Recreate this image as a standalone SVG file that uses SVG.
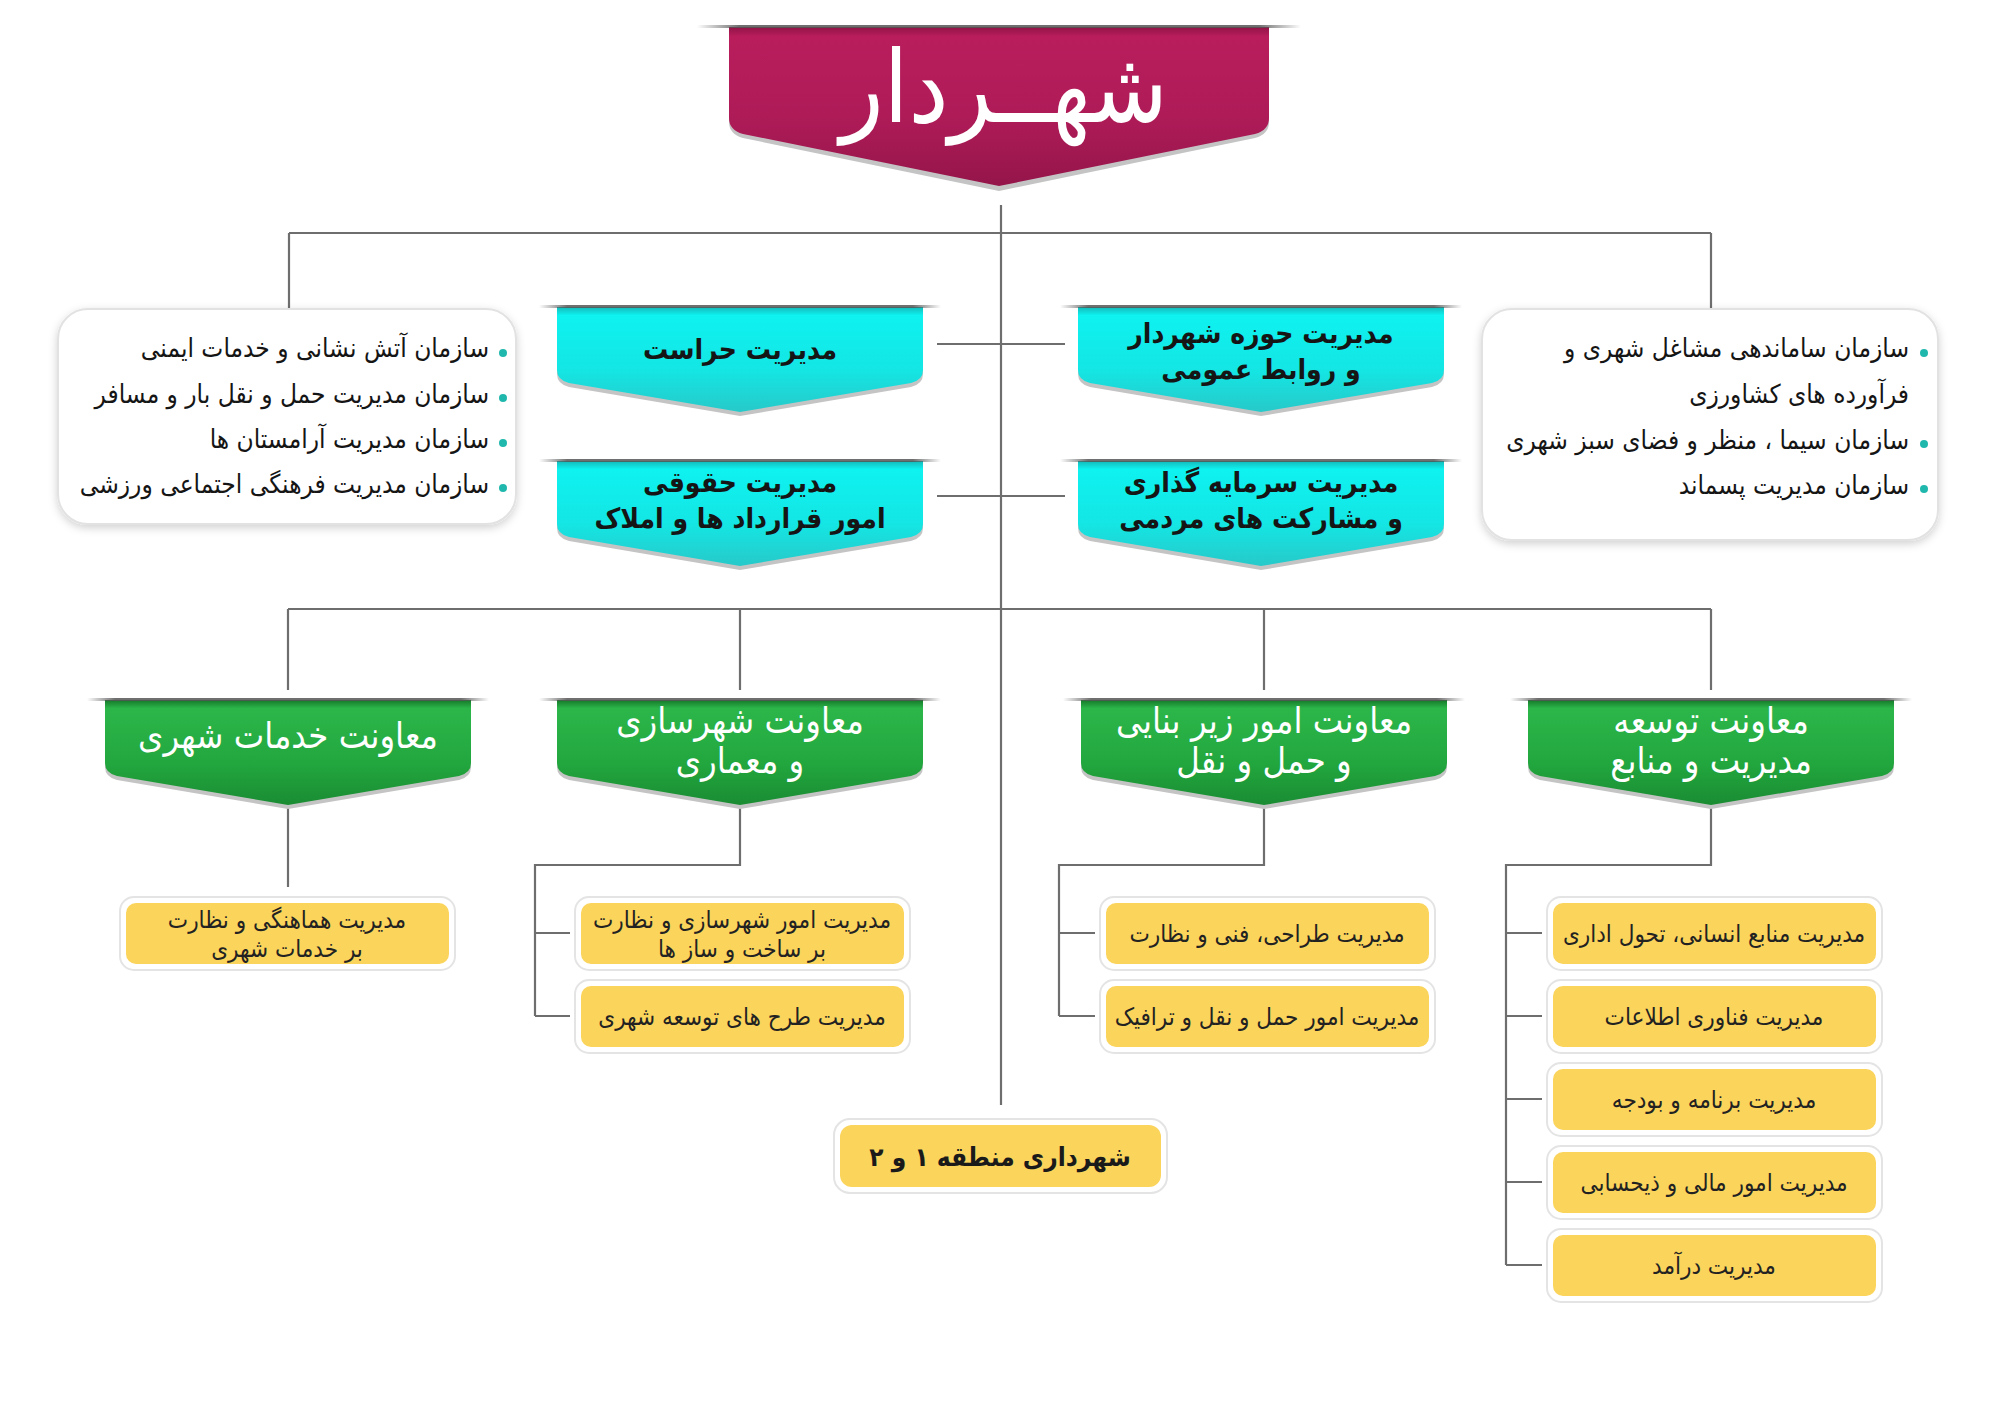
<svg xmlns="http://www.w3.org/2000/svg" xmlns:xlink="http://www.w3.org/1999/xlink" width="2000" height="1413" viewBox="0 0 2000 1413">
<style>
  text { font-family: "DejaVu Sans Condensed", "DejaVu Sans", sans-serif; direction: rtl; }
  .conn { fill: none; stroke: #6e6e6e; stroke-width: 2.2; }
  .mayor { font-size: 100px; fill: #ffffff; text-anchor: middle; }
  .cy { font-size: 28px; fill: #151515; text-anchor: middle; font-weight: bold; }
  .gr { font-size: 36px; fill: #ffffff; text-anchor: middle; }
  .ye { font-size: 24px; fill: #222222; text-anchor: middle; }
  .ye2 { font-size: 26px; fill: #1a1a1a; text-anchor: middle; font-weight: bold; }
  .bl { font-size: 26px; fill: #151515; text-anchor: start; }
  .dot { fill: #20b8ad; }
  .card { fill: #ffffff; stroke: #e2e2e2; stroke-width: 2; filter: url(#sh); }
  .yo { fill: #ffffff; stroke: #e4e4e4; stroke-width: 2; }
  .yi { fill: #fbd45c; }
  .ribsh { fill: #c4c4c4; }
</style>
<defs>
  <filter id="sh" x="-10%" y="-10%" width="120%" height="130%">
    <feDropShadow dx="0" dy="3" stdDeviation="4" flood-color="#000000" flood-opacity="0.18"/>
  </filter>
  <linearGradient id="gBar" x1="0" y1="0" x2="1" y2="0">
    <stop offset="0" stop-color="#555" stop-opacity="0"/>
    <stop offset="0.07" stop-color="#555" stop-opacity="0.85"/>
    <stop offset="0.93" stop-color="#555" stop-opacity="0.85"/>
    <stop offset="1" stop-color="#555" stop-opacity="0"/>
  </linearGradient>
  <linearGradient id="gMag" x1="0" y1="0" x2="0" y2="1">
    <stop offset="0" stop-color="#8f1446"/>
    <stop offset="0.06" stop-color="#b91d5c"/>
    <stop offset="0.6" stop-color="#ad1b57"/>
    <stop offset="1" stop-color="#94154a"/>
  </linearGradient>
  <linearGradient id="gCyan" x1="0" y1="0" x2="0" y2="1">
    <stop offset="0" stop-color="#14b9b9"/>
    <stop offset="0.08" stop-color="#0ef2f0"/>
    <stop offset="0.6" stop-color="#14e6e4"/>
    <stop offset="1" stop-color="#27c9c9"/>
  </linearGradient>
  <linearGradient id="gGreen" x1="0" y1="0" x2="0" y2="1">
    <stop offset="0" stop-color="#15782a"/>
    <stop offset="0.08" stop-color="#2cb64a"/>
    <stop offset="0.6" stop-color="#22a73e"/>
    <stop offset="1" stop-color="#1a8c33"/>
  </linearGradient>
  <path id="rib" d="M-183,0 H183 V63 Q183,73 171,76 L0,105 L-171,76 Q-183,73 -183,63 Z"/>
  <rect id="bar" x="-201" y="-2" width="402" height="3"/>
</defs>

<g id="connectors">
  <path class="conn" d="M1001,205 V1105"/>
  <path class="conn" d="M289,233 H1711 M289,233 V309 M1711,233 V309"/>
  <path class="conn" d="M937,344 H1065 M937,496 H1065"/>
  <path class="conn" d="M288,609 H1711 M288,609 V690 M740,609 V690 M1264,609 V690 M1711,609 V690"/>
  <path class="conn" d="M288,805 V887"/>
  <path class="conn" d="M740,805 V865 H535 V1016 M535,933 H570 M535,1016 H570"/>
  <path class="conn" d="M1264,805 V865 H1059 V1016 M1059,933 H1095 M1059,1016 H1095"/>
  <path class="conn" d="M1711,805 V865 H1506 V1265 M1506,933 H1542 M1506,1016 H1542 M1506,1099 H1542 M1506,1182 H1542 M1506,1265 H1542"/>
</g>

<g id="mayor">
  <path fill="#c4c4c4" d="M729,31 H1269 V122 Q1269,134 1255,138 L999,191 L743,138 Q729,134 729,122 Z"/>
  <path fill="url(#gMag)" d="M729,27 H1269 V118 Q1269,130 1255,134 L999,186 L743,134 Q729,130 729,118 Z"/>
  <rect x="697" y="25" width="604" height="3" fill="url(#gBar)"/>
  <text class="mayor" x="1004" y="122">شهــردار</text>
</g>

<g id="org-left">
  <rect class="card" x="58" y="309" width="458" height="215" rx="30"/>
  <circle class="dot" cx="503" cy="353" r="4"/>
  <circle class="dot" cx="503" cy="398" r="4"/>
  <circle class="dot" cx="503" cy="443" r="4"/>
  <circle class="dot" cx="503" cy="488" r="4"/>
  <text class="bl" x="489" y="357">سازمان آتش نشانی و خدمات ایمنی</text>
  <text class="bl" x="489" y="403">سازمان مدیریت حمل و نقل بار و مسافر</text>
  <text class="bl" x="489" y="448">سازمان مدیریت آرامستان ها</text>
  <text class="bl" x="489" y="493">سازمان مدیریت فرهنگی اجتماعی ورزشی</text>
</g>

<g id="org-right">
  <rect class="card" x="1482" y="309" width="456" height="231" rx="30"/>
  <circle class="dot" cx="1924" cy="353" r="4"/>
  <circle class="dot" cx="1924" cy="444" r="4"/>
  <circle class="dot" cx="1924" cy="489" r="4"/>
  <text class="bl" x="1909" y="357">سازمان ساماندهی مشاغل شهری و</text>
  <text class="bl" x="1909" y="403">فرآورده های کشاورزی</text>
  <text class="bl" x="1909" y="449">سازمان سیما ، منظر و فضای سبز شهری</text>
  <text class="bl" x="1909" y="494">سازمان مدیریت پسماند</text>
</g>

<g id="herasat" transform="translate(740,307)">
  <use href="#rib" class="ribsh" y="4"/>
  <use href="#rib" fill="url(#gCyan)"/>
  <use href="#bar" fill="url(#gBar)"/>
  <text class="cy" x="0" y="52">مدیریت حراست</text>
</g>

<g id="howzeh" transform="translate(1261,307)">
  <use href="#rib" class="ribsh" y="4"/>
  <use href="#rib" fill="url(#gCyan)"/>
  <use href="#bar" fill="url(#gBar)"/>
  <text class="cy" x="0" y="36">مدیریت حوزه شهردار</text>
  <text class="cy" x="0" y="72">و روابط عمومی</text>
</g>

<g id="hoghoghi" transform="translate(740,461)">
  <use href="#rib" class="ribsh" y="4"/>
  <use href="#rib" fill="url(#gCyan)"/>
  <use href="#bar" fill="url(#gBar)"/>
  <text class="cy" x="0" y="31">مدیریت حقوقی</text>
  <text class="cy" x="0" y="67">امور قرارداد ها و املاک</text>
</g>

<g id="sarmayeh" transform="translate(1261,461)">
  <use href="#rib" class="ribsh" y="4"/>
  <use href="#rib" fill="url(#gCyan)"/>
  <use href="#bar" fill="url(#gBar)"/>
  <text class="cy" x="0" y="31">مدیریت سرمایه گذاری</text>
  <text class="cy" x="0" y="67">و مشارکت های مردمی</text>
</g>

<g id="khadamat" transform="translate(288,700)">
  <use href="#rib" class="ribsh" y="4"/>
  <use href="#rib" fill="url(#gGreen)"/>
  <use href="#bar" fill="url(#gBar)"/>
  <text class="gr" x="0" y="48">معاونت خدمات شهری</text>
</g>

<g id="shahrsazi" transform="translate(740,700)">
  <use href="#rib" class="ribsh" y="4"/>
  <use href="#rib" fill="url(#gGreen)"/>
  <use href="#bar" fill="url(#gBar)"/>
  <text class="gr" x="0" y="33">معاونت شهرسازی</text>
  <text class="gr" x="0" y="73">و معماری</text>
</g>

<g id="zirbana" transform="translate(1264,700)">
  <use href="#rib" class="ribsh" y="4"/>
  <use href="#rib" fill="url(#gGreen)"/>
  <use href="#bar" fill="url(#gBar)"/>
  <text class="gr" x="0" y="33">معاونت امور زیر بنایی</text>
  <text class="gr" x="0" y="73">و حمل و نقل</text>
</g>

<g id="tose-e" transform="translate(1711,700)">
  <use href="#rib" class="ribsh" y="4"/>
  <use href="#rib" fill="url(#gGreen)"/>
  <use href="#bar" fill="url(#gBar)"/>
  <text class="gr" x="0" y="33">معاونت توسعه</text>
  <text class="gr" x="0" y="73">مدیریت و منابع</text>
</g>

<g id="hamahangi">
  <rect class="yo" x="120" y="897" width="335" height="73" rx="14"/>
  <rect class="yi" x="126" y="903" width="323" height="61" rx="10"/>
  <text class="ye" x="287" y="928">مدیریت هماهنگی و نظارت</text>
  <text class="ye" x="287" y="957">بر خدمات شهری</text>
</g>

<g id="omur-shahrsazi">
  <rect class="yo" x="575" y="897" width="335" height="73" rx="14"/>
  <rect class="yi" x="581" y="903" width="323" height="61" rx="10"/>
  <text class="ye" x="742" y="928">مدیریت امور شهرسازی و نظارت</text>
  <text class="ye" x="742" y="957">بر ساخت و ساز ها</text>
</g>

<g id="tarh-ha">
  <rect class="yo" x="575" y="980" width="335" height="73" rx="14"/>
  <rect class="yi" x="581" y="986" width="323" height="61" rx="10"/>
  <text class="ye" x="742" y="1025">مدیریت طرح های توسعه شهری</text>
</g>

<g id="tarrahi">
  <rect class="yo" x="1100" y="897" width="335" height="73" rx="14"/>
  <rect class="yi" x="1106" y="903" width="323" height="61" rx="10"/>
  <text class="ye" x="1267" y="942">مدیریت طراحی، فنی و نظارت</text>
</g>

<g id="haml-naghl">
  <rect class="yo" x="1100" y="980" width="335" height="73" rx="14"/>
  <rect class="yi" x="1106" y="986" width="323" height="61" rx="10"/>
  <text class="ye" x="1267" y="1025">مدیریت امور حمل و نقل و ترافیک</text>
</g>

<g id="manabe">
  <rect class="yo" x="1547" y="897" width="335" height="73" rx="14"/>
  <rect class="yi" x="1553" y="903" width="323" height="61" rx="10"/>
  <text class="ye" x="1714" y="942">مدیریت منابع انسانی، تحول اداری</text>
</g>

<g id="fanavari">
  <rect class="yo" x="1547" y="980" width="335" height="73" rx="14"/>
  <rect class="yi" x="1553" y="986" width="323" height="61" rx="10"/>
  <text class="ye" x="1714" y="1025">مدیریت فناوری اطلاعات</text>
</g>

<g id="budjeh">
  <rect class="yo" x="1547" y="1063" width="335" height="73" rx="14"/>
  <rect class="yi" x="1553" y="1069" width="323" height="61" rx="10"/>
  <text class="ye" x="1714" y="1108">مدیریت برنامه و بودجه</text>
</g>

<g id="mali">
  <rect class="yo" x="1547" y="1146" width="335" height="73" rx="14"/>
  <rect class="yi" x="1553" y="1152" width="323" height="61" rx="10"/>
  <text class="ye" x="1714" y="1191">مدیریت امور مالی و ذیحسابی</text>
</g>

<g id="daramad">
  <rect class="yo" x="1547" y="1229" width="335" height="73" rx="14"/>
  <rect class="yi" x="1553" y="1235" width="323" height="61" rx="10"/>
  <text class="ye" x="1714" y="1274">مدیریت درآمد</text>
</g>

<g id="mantagheh">
  <rect class="yo" x="834" y="1119" width="333" height="74" rx="16"/>
  <rect class="yi" x="840" y="1125" width="321" height="62" rx="12"/>
  <text class="ye2" x="1000" y="1166">شهرداری منطقه ۱ و ۲</text>
</g>
</svg>
